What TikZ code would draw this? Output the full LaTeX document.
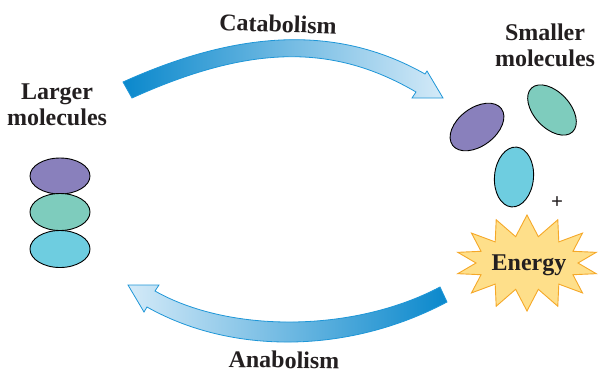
\documentclass[tikz,border=0pt]{standalone}
\usepackage{fontspec}
\setmainfont{Liberation Serif}
\usetikzlibrary{shapes.geometric}
\definecolor{arrowdark}{RGB}{10,136,204}
\definecolor{arrowlight}{RGB}{212,234,248}
\definecolor{arrowline}{RGB}{30,150,215}
\definecolor{molpurple}{RGB}{137,128,188}
\definecolor{molteal}{RGB}{126,204,189}
\definecolor{molcyan}{RGB}{110,205,224}
\definecolor{starfill}{RGB}{254,223,138}
\definecolor{starline}{RGB}{245,168,40}
\definecolor{textdark}{RGB}{35,31,32}

\begin{document}
\begin{tikzpicture}[x=1pt, y=-1pt,
        words/.style={font=\bfseries\fontsize{24}{26}\selectfont, text=textdark, align=center, inner sep=0pt},
        molecule/.style={ellipse, draw=black, line width=0.9pt, inner sep=0pt},
        bigarrow/.style={draw=arrowline, line width=0.8pt}]
    \useasboundingbox (0,0) rectangle (598,373);

    % catabolism: larger -> smaller
    \path[bigarrow, left color=arrowdark, middle color=arrowdark!75!arrowlight, right color=arrowlight]
        (123,82) .. controls (245,27) and (342,27) .. (425,74)
        -- (427,71) -- (443,98) -- (412,98) -- (416,92)
        .. controls (334,44) and (251,44) .. (132,98) -- cycle;
    \node[words, rotate=-2] (cata) at (278,24) {Catabolism};

    % anabolism: smaller -> larger
    \path[bigarrow, left color=arrowlight, middle color=arrowdark!75!arrowlight, right color=arrowdark]
        (440,287) .. controls (353,333) and (229,333) .. (155,291)
        -- (159,285) -- (128,285) -- (144,312) -- (147,307)
        .. controls (231,354.5) and (348,354.5) .. (447,302) -- cycle;
    \node[words, rotate=-1] (ana) at (284,360) {Anabolism};

    % larger molecules
    \node[words] (larger) at (57,105) {Larger\\molecules};
    \node[molecule, fill=molpurple, minimum width=60, minimum height=36] (big1) at (60,176) {};
    \node[molecule, fill=molteal, minimum width=60, minimum height=37] (big2) at (60,212) {};
    \node[molecule, fill=molcyan, minimum width=60, minimum height=37] (big3) at (60,249) {};

    % smaller molecules
    \node[words] (smaller) at (545,45) {Smaller\\molecules};
    \node[molecule, fill=molpurple, minimum width=61, minimum height=38, rotate=37] (small1) at (477,127) {};
    \node[molecule, fill=molteal, minimum width=60, minimum height=36, rotate=-47] (small2) at (552,110) {};
    \node[molecule, fill=molcyan, minimum width=39, minimum height=60, rotate=-5] (small3) at (514,177) {};
    \node[words, font=\bfseries\fontsize{21}{22}\selectfont] (plus) at (557,203) {+};

    % energy burst
    \draw[fill=starfill, draw=starline, line width=0.9pt, line join=miter]
        plot[samples=28, domain=0:27]
        ({527+(71-20*mod(round(\x),2))*cos(\x*360/28-90)},
         {263+(48-21*mod(round(\x),2))*sin(\x*360/28-90)}) -- cycle;
    \node[words] (energy) at (529,265) {Energy};
\end{tikzpicture}
\end{document}
